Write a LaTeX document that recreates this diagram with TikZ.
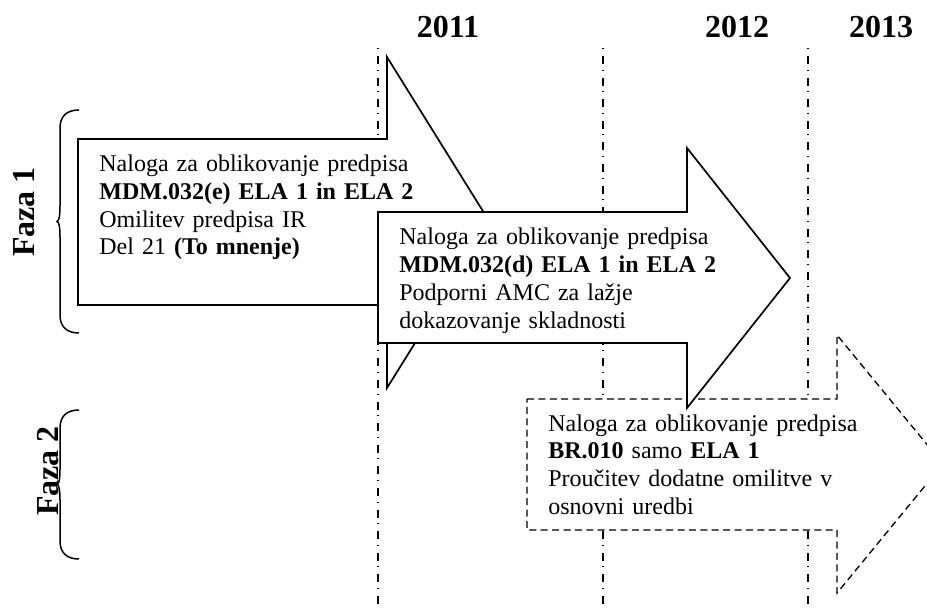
\documentclass[tikz,border=0pt]{standalone}
\usepackage{fontspec}
\setmainfont{Liberation Serif}

\tikzstyle{timeline} = [line width=0.75pt, dash pattern=on 0.5pt off 3.5pt on 4pt off 2.8pt]
\tikzstyle{block} = [draw, fill=white, line width=0.85pt, line join=miter]
\tikzstyle{planned} = [block, line width=0.65pt, dash pattern=on 3.5pt off 2.2pt]
\tikzstyle{blocktext} = [anchor=base west, inner sep=0pt, text width=170pt, align=left, font=\fontsize{12}{13.9}\selectfont]
\tikzstyle{year} = [inner sep=0pt, font=\fontsize{16}{18}\selectfont\bfseries]
\tikzstyle{bracket} = [draw, line width=0.75pt]

\begin{document}
\begin{tikzpicture}[x=0.5pt, y=-0.5pt]
    \clip (0,0) rectangle (927,609);

    % Years
    \node [year] (y2011) at (448,27) {2011};
    \node [year] (y2012) at (737,27) {2012};
    \node [year] (y2013) at (881,27) {2013};
    \path [timeline, draw] (378,48) -- (378,609);
    \path [timeline, draw] (603,48) -- (603,609);
    \path [timeline, draw] (808,48) -- (808,609);

    % Phases
    \node [year, rotate=90] (faza1) at (24,212) {Faza 1};
    \path [bracket] (79,110) .. controls (67,110) and (60,116) .. (60,128) -- (60,206)
        .. controls (60,216) and (59,221) .. (57,221.5) .. controls (59,222) and (60,227) .. (60,237)
        -- (60,315) .. controls (60,327) and (67,333) .. (79,333);
    \path [bracket] (79,410) .. controls (67,410) and (60,416) .. (60,428) -- (60,469)
        .. controls (60,479) and (59,484) .. (57,484.5) .. controls (59,485) and (60,490) .. (60,500)
        -- (60,541) .. controls (60,553) and (67,559) .. (79,559);
    \node [year, rotate=90] (faza2) at (48,471) {Faza 2};

    % Arrows
    \path [block] (78,139) -- (387,139) -- (387,57) -- (490,222.5) -- (387,388) -- (387,305) -- (78,305) -- cycle;
    \node [blocktext] (ela_e) at (99,171.5) {Naloga za oblikovanje predpisa\\
        \textbf{MDM.032(e) ELA 1 in ELA 2}\\
        Omilitev predpisa IR\\
        Del 21 \textbf{(To mnenje)}};

    \path [planned] (527,399) -- (837,399) -- (837,335) -- (943,464) -- (837,593) -- (837,530) -- (527,530) -- cycle;
    \node [blocktext] (br010) at (548,431) {Naloga za oblikovanje predpisa\\
        \textbf{BR.010} samo \textbf{ELA 1}\\
        Proučitev dodatne omilitve v\\
        osnovni uredbi};

    \path [block] (378,212) -- (687,212) -- (687,148) -- (790,278) -- (687,408) -- (687,343) -- (378,343) -- cycle;
    \node [blocktext] (ela_d) at (399,245) {Naloga za oblikovanje predpisa\\
        \textbf{MDM.032(d) ELA 1 in ELA 2}\\
        Podporni AMC za lažje\\
        dokazovanje skladnosti};

\end{tikzpicture}
\end{document}
